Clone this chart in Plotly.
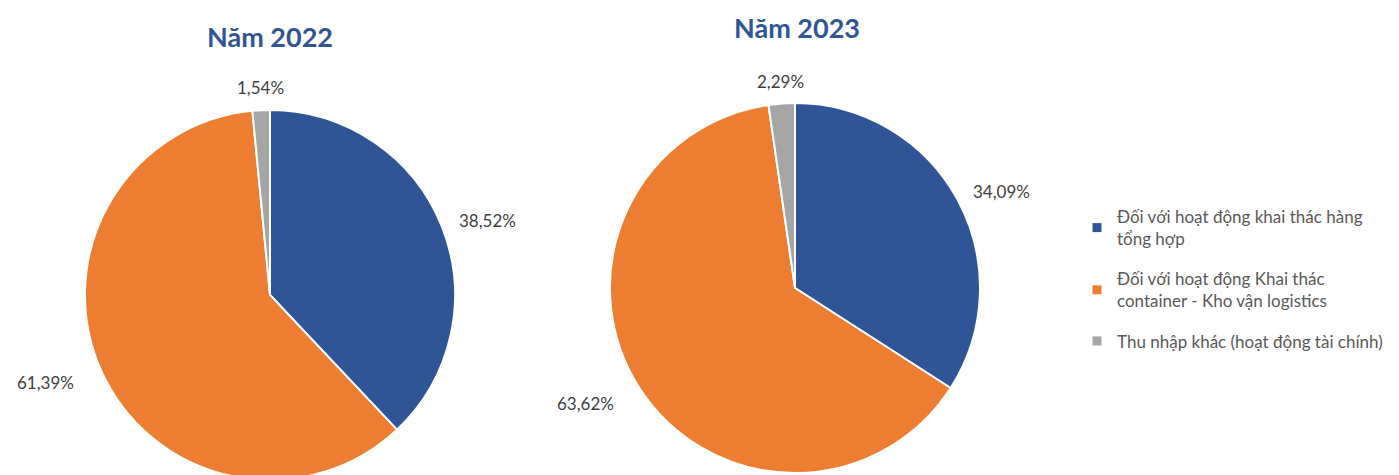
import math
import plotly.graph_objects as go

W, H = 1399, 475
OFF = 8  # default page margin of the html body

labels = [
    'Đối với hoạt động khai thác hàng<br>tổng hợp',
    'Đối với hoạt động Khai thác<br>container - Kho vận logistics',
    'Thu nhập khác (hoạt động tài chính)',
]
values_2022 = [38.52, 61.39, 1.54]
values_2023 = [34.09, 63.62, 2.29]
text_2022 = ['38,52%', '61,39%', '1,54%']
text_2023 = ['34,09%', '63,62%', '2,29%']
titles = ['Năm 2022', 'Năm 2023']

COLORS = ['#2F5597', '#ED7D31', '#A5A5A5']
FONT = 'Lato, Calibri, Carlito, sans-serif'

# pie geometry in screen pixels: centre x, centre y (from top), radius
PIES = [(270, 295, 185), (795, 288, 185)]
TITLE_POS = [(270, 37), (797, 27)]


def px(x):
    return (x - OFF) / W


def py(y):
    return (H - (y - OFF)) / H


def _domain(cx, cy, r):
    return dict(x=[px(cx - r), px(cx + r)], y=[py(cy + r), py(cy - r)])


def _label_annotations(values, texts, cx, cy, r):
    total = float(sum(values))
    out = []
    start = 0.0
    for v, t in zip(values, texts):
        mid = (start + v / 2.0) / total * 2 * math.pi
        start += v
        s, c = math.sin(mid), math.cos(mid)
        if s > 0.3:
            g, xa, ya = 16, 'left', 'middle'
        elif s < -0.3:
            g, xa, ya = 28, 'right', 'middle'
        else:
            g, xa, ya = 10, 'center', 'bottom' if c > 0 else 'top'
        lx = cx + (r + g) * s
        ly = cy - (r + g) * c
        out.append(dict(
            x=px(lx), y=py(ly), xref='paper', yref='paper',
            text=t, showarrow=False, xanchor=xa, yanchor=ya,
            font=dict(family=FONT, size=17, color='#404040')))
    return out


fig = go.Figure()
annotations = []
for i, (vals, txt) in enumerate([(values_2022, text_2022),
                                 (values_2023, text_2023)]):
    cx, cy, r = PIES[i]
    fig.add_trace(go.Pie(
        labels=labels,
        values=vals,
        sort=False,
        direction='clockwise',
        rotation=0,
        textinfo='none',
        hoverinfo='label+value',
        marker=dict(colors=COLORS, line=dict(color='white', width=2)),
        domain=_domain(cx, cy, r),
        showlegend=False))
    annotations += _label_annotations(vals, txt, cx, cy, r)
    tx, ty = TITLE_POS[i]
    annotations.append(dict(
        x=px(tx), y=py(ty), xref='paper', yref='paper',
        text='<b>%s</b>' % titles[i],
        showarrow=False, xanchor='center', yanchor='middle',
        font=dict(family=FONT, size=27, color='#2F5597')))

# legend entries (one group each so the gap between them can be set)
for i, (name, color) in enumerate(zip(labels, COLORS)):
    fig.add_trace(go.Scatter(
        x=[None], y=[None], mode='markers', name=name,
        legendgroup=str(i),
        marker=dict(symbol='square', size=9, color=color)))

fig.update_layout(
    width=W, height=H,
    margin=dict(l=0, r=0, t=0, b=0),
    paper_bgcolor='white',
    plot_bgcolor='white',
    xaxis=dict(visible=False),
    yaxis=dict(visible=False),
    annotations=annotations,
    legend=dict(
        x=px(1077), y=py(199), xanchor='left', yanchor='top',
        font=dict(family=FONT, size=17, color='#595959'),
        itemwidth=30, tracegroupgap=15, bgcolor='rgba(0,0,0,0)'))

fig.write_html('out.html')
